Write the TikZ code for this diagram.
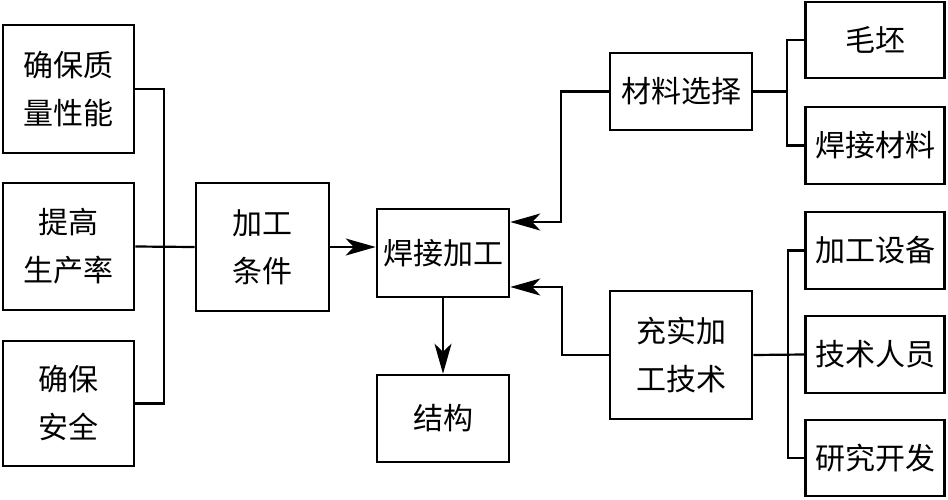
\documentclass[tikz,border=0pt]{standalone}
\usepackage{fontspec}
\setmainfont{Noto Sans CJK SC}
\usetikzlibrary{arrows.meta}
\begin{document}
\begin{tikzpicture}[x=1pt,y=1pt,
  box/.style={draw,line width=2.6pt,rectangle,inner sep=0pt,align=center,
    font=\fontsize{30}{48}\selectfont},
  conn/.style={line width=2.2pt},
  arr/.style={line width=2.2pt,-{Stealth[length=30pt,width=17pt,inset=8pt]}}]
\useasboundingbox (0,0) rectangle (948,-499);
% left column
\node[box,minimum width=131pt,minimum height=128pt] (b1) at (68.5,-89) {确保质\\量性能};
\node[box,minimum width=131pt,minimum height=127pt] (b2) at (68.5,-246.5) {提高\\生产率};
\node[box,minimum width=131pt,minimum height=125pt] (b3) at (68.5,-403.5) {确保\\安全};
\node[box,minimum width=133pt,minimum height=128pt] (jc) at (262.5,-247) {加工\\条件};
\node[box,minimum width=132pt,minimum height=88pt] (hj) at (443,-253) {焊接加工};
\node[box,minimum width=132pt,minimum height=87pt] (jg) at (443,-418.5) {结构};
\node[box,minimum width=142pt,minimum height=77pt] (cl) at (681,-91.5) {材料选择};
\node[box,minimum width=142pt,minimum height=128pt] (cs) at (681,-355) {充实加\\工技术};
\node[box,minimum width=139pt,minimum height=76pt] (mp) at (875,-40) {毛坯};
\node[box,minimum width=139pt,minimum height=77pt] (hc) at (875,-145.5) {焊接材料};
\node[box,minimum width=139pt,minimum height=77pt] (sb) at (875,-250.5) {加工设备};
\node[box,minimum width=139pt,minimum height=77pt] (ry) at (875,-354.5) {技术人员};
\node[box,minimum width=139pt,minimum height=76pt] (kf) at (875,-458) {研究开发};
% junctions
\coordinate (jL) at (164,-247);
\coordinate (jR1) at (787,-91.5);
\coordinate (jR2) at (788,-355);
% left bracket
\draw[conn] (b1.east) -| (jL);
\draw[conn] (b3.east) -| (jL);
\draw[conn] (b2.east) -- (jc.west);
\draw[arr] (jc.east) -- (jc.east -| hj.west);
\draw[arr] (hj.south) -- (jg.north);
% right side
\draw[arr] (cl.west) -- ++(-48,0) |- ([yshift=31pt]hj.east);
\draw[arr] (cs.west) -- ++(-47,0) |- ([yshift=-34pt]hj.east);
\draw[line width=3.2pt] (cl.east) -- (jR1);
\draw[conn] (mp.west) -| (jR1);
\draw[conn] (hc.west) -| (jR1);
\draw[conn] (cs.east) -- (ry.west);
\draw[conn] (sb.west) -| (jR2);
\draw[conn] (kf.west) -| (jR2);
\end{tikzpicture}
\end{document}
